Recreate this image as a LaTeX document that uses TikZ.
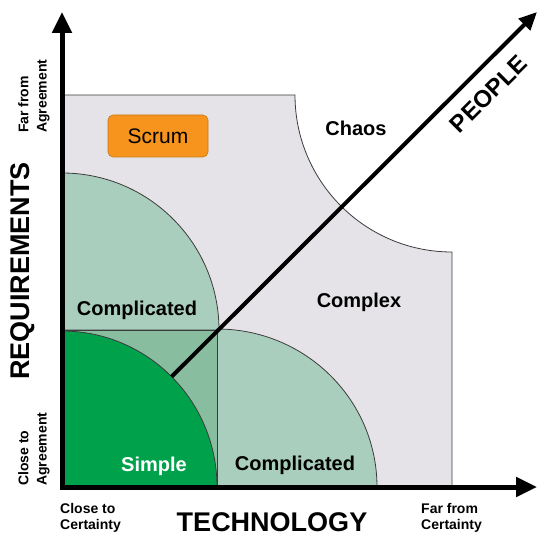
\documentclass[tikz,border=0pt]{standalone}
\usepackage{fontspec}
\setmainfont{Liberation Sans}
\usetikzlibrary{arrows.meta}

\definecolor{zonegray}{HTML}{E5E3E7}
\definecolor{lightgreen}{HTML}{AACEBD}
\definecolor{midgreen}{HTML}{89BDA0}
\definecolor{darkgreen}{HTML}{00A14B}
\definecolor{scrumorange}{HTML}{F7941D}
\definecolor{scrumedge}{HTML}{C97A12}
\definecolor{zoneedge}{HTML}{3C3C3C}

\begin{document}
\begin{tikzpicture}[x=1pt,y=1pt,
  zoneline/.style={draw=zoneedge, line width=0.8pt},
  axisline/.style={line width=5pt, -{Triangle[length=21pt,width=19pt]}},
  peopleline/.style={line width=4pt, -{Triangle[length=18pt,width=16pt]}},
  zonelabel/.style={font=\bfseries\fontsize{20}{24}\selectfont, inner sep=0pt},
  axislabel/.style={font=\bfseries\fontsize{27}{30}\selectfont, inner sep=0pt},
  endlabel/.style={font=\bfseries\fontsize{14}{16}\selectfont, inner sep=0pt, align=left},
  sidelabel/.style={font=\bfseries\fontsize{14}{18.3}\selectfont, inner sep=0pt, align=left, rotate=90, anchor=north west},
  scrumbox/.style={fill=scrumorange, draw=scrumedge, line width=0.6pt, rounded corners=5pt,
    minimum width=100pt, minimum height=42pt, inner sep=0pt, font=\fontsize{21}{24}\selectfont}
]
\useasboundingbox (0,0) rectangle (549,542);

% key points
\coordinate (O) at (62,55);
\coordinate (ybase) at (62,52.5);
\coordinate (xbase) at (59.5,55);
\coordinate (ytip) at (62,530);
\coordinate (xtip) at (537,55);
\coordinate (pstart) at (171.6,165.3);
\coordinate (ptip) at (537,530);

% complex zone with the chaos corner cut out
\fill[zonegray] (62,55) -- (62,447) -- (295,447)
  arc[start angle=180, end angle=270, radius=157] -- (452,55) -- cycle;
\draw[zoneline] (62,447) -- (295,447)
  arc[start angle=180, end angle=270, radius=157] -- (452,55);

% complicated zones along each axis
\draw[zoneline, fill=lightgreen] (62,212) -- (62,369)
  arc[start angle=90, end angle=0, radius=157] -- cycle;
\draw[zoneline, fill=lightgreen] (217,55) -- (217,213)
  arc[start angle=90, end angle=0, x radius=160, y radius=158] -- cycle;

% overlap square
\draw[zoneline, fill=midgreen] (62,55) rectangle (217,212);

% simple zone
\fill[darkgreen] (62,55) -- (62,211)
  arc[start angle=90, end angle=0, x radius=155, y radius=156] -- cycle;
\draw[zoneline] (62,211) arc[start angle=90, end angle=0, x radius=155, y radius=156];

% axes
\draw[peopleline] (pstart) -- (ptip);
\draw[axisline] (ybase) -- (ytip);
\draw[axisline] (xbase) -- (xtip);

% zone labels
\node[scrumbox] (scrum) at (158,406) {Scrum};
\node[zonelabel] (chaos) at (356,414) {Chaos};
\node[zonelabel] (complex) at (359,240) {Complex};
\node[zonelabel] (complreq) at (137,232) {Complicated};
\node[zonelabel] (compltech) at (295,77) {Complicated};
\node[zonelabel, text=white] (simple) at (154,76) {Simple};

% axis titles
\node[axislabel] (tech) at (272,20) {TECHNOLOGY};
\node[axislabel, rotate=90] (req) at (23,271) {REQUIREMENTS};
\node[axislabel, font=\bfseries\fontsize{24}{28}\selectfont, rotate=45] (people) at (488.5,448) {PEOPLE};

% axis end labels
\node[endlabel, anchor=north west] (certclose) at (60,38.5) {Close to\\Certainty};
\node[endlabel, anchor=north west] (certfar) at (421,38.5) {Far from\\Certainty};
\node[sidelabel] (agreeclose) at (18,56) {Close to\\Agreement};
\node[sidelabel] (agreefar) at (18,409) {Far from\\Agreement};
\end{tikzpicture}
\end{document}
